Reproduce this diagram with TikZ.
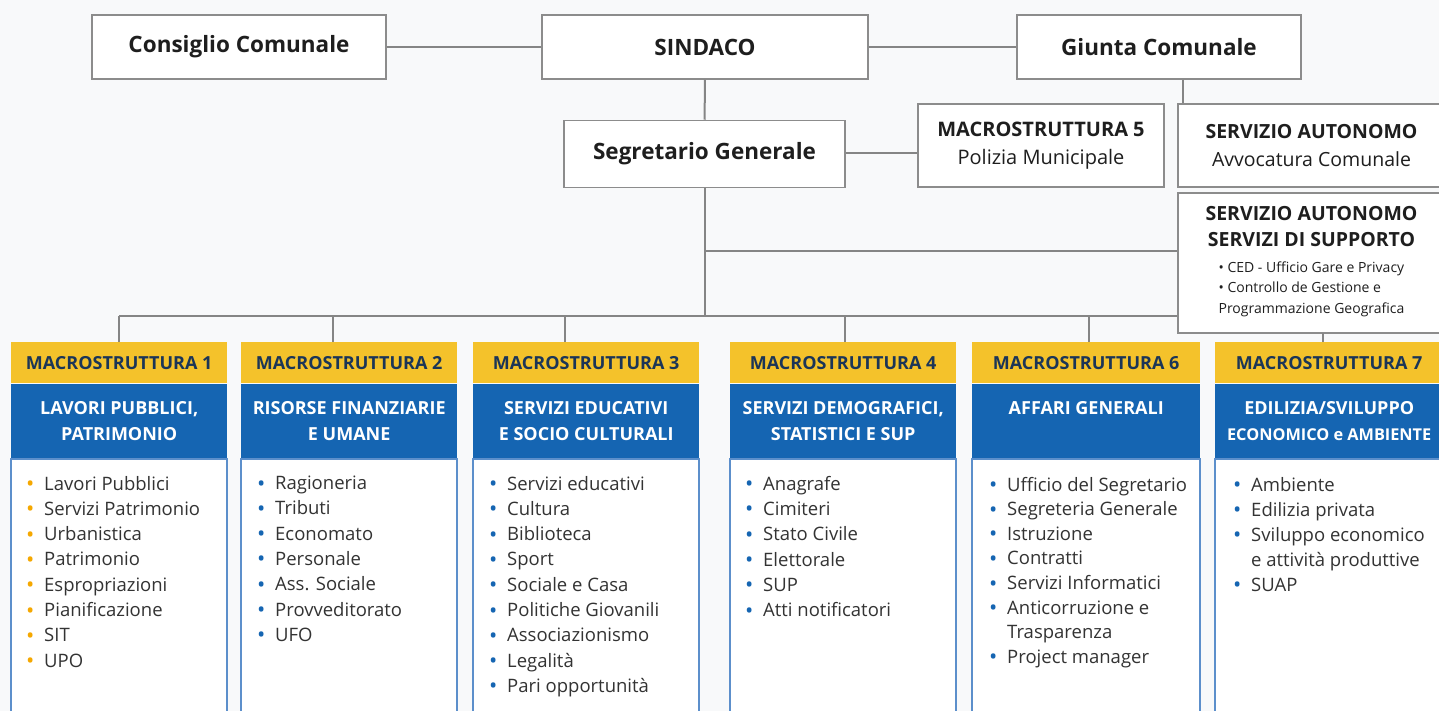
\documentclass[tikz,border=0pt]{standalone}
\usepackage{fontspec}
\setmainfont{Open Sans}
\definecolor{bggray}{HTML}{F8F9FA}
\definecolor{boxgray}{HTML}{8C8C8C}
\definecolor{linegray}{HTML}{858585}
\definecolor{darktext}{HTML}{1E1E1E}
\definecolor{bodytext}{HTML}{333333}
\definecolor{macroyellow}{HTML}{F4C22B}
\definecolor{macroblue}{HTML}{1565B2}
\definecolor{bodyblue}{HTML}{5C8FCB}
\definecolor{navy}{HTML}{1B3557}
\definecolor{dotorange}{HTML}{F5A800}
\newcommand{\bul}[1]{\makebox[18pt][l]{\raisebox{-1.5pt}{\color{#1}\fontsize{22}{22}\selectfont\textbullet}}}
\newcommand{\ob}{\bul{dotorange}}
\newcommand{\bb}{\bul{macroblue}}
\newcommand{\nb}{\hspace*{18pt}}
\newcommand{\sdot}{{\fontsize{14}{14}\selectfont\textbullet}}
\begin{document}
\begin{tikzpicture}[x=1pt,y=-1pt,
  box/.style={draw=boxgray,line width=1.5pt,fill=white,text=darktext,inner sep=0pt},
  topbox/.style={box,font=\bfseries\fontsize{22.5}{26}\selectfont},
  link/.style={draw=linegray,line width=2pt},
  head/.style={fill=macroyellow,text=navy,font=\bfseries\fontsize{18}{22}\selectfont,minimum height=41pt,inner sep=0pt},
  sub/.style={fill=macroblue,text=white,font=\bfseries\fontsize{18}{26}\selectfont,minimum height=75pt,inner sep=0pt,align=center},
  body/.style={draw=bodyblue,line width=1.5pt,fill=white},
  list/.style={anchor=north west,align=left,inner sep=0pt,text=bodytext,font=\fontsize{18.5}{25.3}\selectfont}]
\useasboundingbox (0,0) rectangle (1439,711);
\clip (0,0) rectangle (1439,711);
\fill[bggray] (0,0) rectangle (1439,711);

\node[topbox,minimum width=294pt,minimum height=64pt] (cons) at (239,47) {Consiglio Comunale};
\node[topbox,minimum width=326pt,minimum height=64pt] (sind) at (705,47) {SINDACO};
\node[topbox,minimum width=284pt,minimum height=64pt] (giunta) at (1159,47) {Giunta Comunale};
\node[topbox,minimum width=281pt,minimum height=67pt] (segr) at (704.5,154) {Segretario Generale};
\node[box,minimum width=246pt,minimum height=83pt,align=center,font=\fontsize{20}{28}\selectfont] (m5) at (1041,145.5) {\textbf{MACROSTRUTTURA 5}\\Polizia Municipale};
\node[box,minimum width=267pt,minimum height=83pt,align=center,font=\fontsize{19.5}{28}\selectfont] (avv) at (1311.5,145.5) {\textbf{SERVIZIO AUTONOMO}\\Avvocatura Comunale};
\node[box,minimum width=267pt,minimum height=140pt,align=center,font=\fontsize{19.5}{26}\selectfont] (supp) at (1311.5,263) {\textbf{SERVIZIO AUTONOMO}\\\textbf{SERVIZI DI SUPPORTO}\\{\fontsize{14}{20.5}\selectfont\begin{tabular}[t]{@{}l@{}}\sdot{} CED - Ufficio Gare e Privacy\\\sdot{} Controllo de Gestione e\\Programmazione Geografica\end{tabular}}};

\coordinate (gj) at (1183,0);
\coordinate (sb) at (0,251);
\coordinate (bus) at (0,316);

\draw[link] (cons) -- (sind);
\draw[link] (sind) -- (giunta);
\draw[link] (sind) -- (segr);
\draw[link] (segr.east |- 0,153) -- (m5.west |- 0,153);
\draw[link] (giunta.south -| gj) -- (avv.north -| gj);
\draw[link] (segr.south) -- (segr.south |- bus);
\draw[link] (segr.south |- sb) -- (supp.west |- sb);

\foreach \n/\l/\w/\dx/\len/\num/\sub in {
  m1/11/216/0/26/1/{LAVORI PUBBLICI,\\PATRIMONIO},
  m2/241/216/-16/26/2/{RISORSE FINANZIARIE\\E UMANE},
  m3/473/226/-21/26/3/{SERVIZI EDUCATIVI\\E SOCIO CULTURALI},
  m4/730/226/2/26/4/{SERVIZI DEMOGRAFICI,\\STATISTICI E SUP},
  m6/972/228/3/26/6/{AFFARI GENERALI\\\mbox{}},
  m7/1215/228/-6/9/7/{EDILIZIA/SVILUPPO\\{\fontsize{16.3}{26}\selectfont ECONOMICO e AMBIENTE}}}
{
  \node[head,minimum width=\w pt,anchor=north west] (\n) at (\l,342) {MACROSTRUTTURA \num};
  \node[sub,minimum width=\w pt,anchor=north] (\n-sub) at (\n.south) {\sub};
  \draw[body] (\n-sub.south west) rectangle ++(\w,280);
  \draw[link] ([xshift=\dx pt]\n.north) -- ++(0,-\len);
}
\draw[link] (m1.north |- bus) -- (supp.west |- bus);

\node[list] (m1-list) at ([xshift=15pt,yshift=-17pt]m1-sub.south west)
  {\ob Lavori Pubblici\\\ob Servizi Patrimonio\\\ob Urbanistica\\\ob Patrimonio\\\ob Espropriazioni\\\ob Pianificazione\\\ob SIT\\\ob UPO};
\node[list] (m2-list) at ([xshift=16pt,yshift=-17pt]m2-sub.south west)
  {\bb Ragioneria\\\bb Tributi\\\bb Economato\\\bb Personale\\\bb Ass. Sociale\\\bb Provveditorato\\\bb UFO};
\node[list] (m3-list) at ([xshift=16pt,yshift=-17pt]m3-sub.south west)
  {\bb Servizi educativi\\\bb Cultura\\\bb Biblioteca\\\bb Sport\\\bb Sociale e Casa\\\bb Politiche Giovanili\\\bb Associazionismo\\\bb Legalità\\\bb Pari opportunità};
\node[list] (m4-list) at ([xshift=15pt,yshift=-17pt]m4-sub.south west)
  {\bb Anagrafe\\\bb Cimiteri\\\bb Stato Civile\\\bb Elettorale\\\bb SUP\\\bb Atti notificatori};
\node[list,font=\fontsize{18.5}{24.6}\selectfont] (m6-list) at ([xshift=17pt,yshift=-18pt]m6-sub.south west)
  {\bb Ufficio del Segretario\\\bb Segreteria Generale\\\bb Istruzione\\\bb Contratti\\\bb Servizi Informatici\\\bb Anticorruzione e\\\nb Trasparenza\\\bb Project manager};
\node[list,font=\fontsize{18.5}{25}\selectfont] (m7-list) at ([xshift=18pt,yshift=-18pt]m7-sub.south west)
  {\bb Ambiente\\\bb Edilizia privata\\\bb Sviluppo economico\\\nb e attività produttive\\\bb SUAP};
\end{tikzpicture}
\end{document}
